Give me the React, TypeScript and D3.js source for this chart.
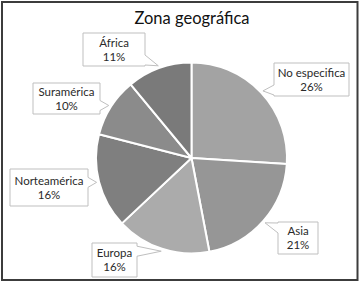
import * as d3 from 'd3';
import { useEffect, useRef } from 'react';

// zonas, in clockwise order from 12 o'clock
const zonas = ['No especifica', 'Asia', 'Europa', 'Norteamérica', 'Suramérica', 'África'];
const porcentajes = [26, 21, 16, 16, 10, 11];
const grises = ['#a3a3a3', '#969696', '#ababab', '#7f7f7f', '#8b8b8b', '#7a7a7a'];

// callout boxes (layout only): [x, y, w, h]
const cajas: [number, number, number, number][] = [
  [274, 63, 75, 33],
  [278, 222, 40, 32],
  [92, 243, 45, 34],
  [10, 169, 78, 37],
  [33, 83, 67, 31],
  [83, 33, 62, 33],
];

const FONT = 'Lato, Carlito, Calibri, sans-serif';

function calloutPath(box: [number, number, number, number], tip: [number, number]) {
  const [x, y, w, h] = box;
  const x2 = x + w;
  const y2 = y + h;
  const [tx, ty] = tip;
  const hw = 5;
  const clamp = (v: number, a: number, b: number) => Math.max(a, Math.min(b, v));
  const p = d3.path();
  if (tx > x2) {
    const c = clamp(ty, y + hw + 1, y2 - hw - 1);
    p.moveTo(x, y);
    p.lineTo(x2, y);
    p.lineTo(x2, c - hw);
    p.lineTo(tx, ty);
    p.lineTo(x2, c + hw);
    p.lineTo(x2, y2);
    p.lineTo(x, y2);
    p.closePath();
  } else if (tx < x) {
    const c = clamp(ty, y + hw + 1, y2 - hw - 1);
    p.moveTo(x, y);
    p.lineTo(x2, y);
    p.lineTo(x2, y2);
    p.lineTo(x, y2);
    p.lineTo(x, c + hw);
    p.lineTo(tx, ty);
    p.lineTo(x, c - hw);
    p.closePath();
  } else {
    p.rect(x, y, w, h);
  }
  return p.toString();
}

export default function App() {
  const ref = useRef<SVGSVGElement | null>(null);

  useEffect(() => {
    if (!ref.current) return;
    const width = 360;
    const height = 283;
    const cx = 191.5;
    const cy = 158;
    const r = 95.5;

    const svg = d3.select(ref.current).attr('viewBox', `0 0 ${width} ${height}`);
    svg.selectAll('*').remove();

    svg.append('rect')
      .attr('width', width).attr('height', height).attr('fill', '#fff');

    svg.append('rect')
      .attr('x', 2).attr('y', 2).attr('width', 355.5).attr('height', 278)
      .attr('fill', 'none').attr('stroke', '#3c3c3c').attr('stroke-width', 2);

    svg.append('text')
      .attr('x', 192).attr('y', 24)
      .attr('text-anchor', 'middle')
      .attr('font-family', FONT).attr('font-size', 16.5)
      .attr('fill', '#111')
      .text('Zona geográfica');

    const pie = d3.pie<number>().sort(null).value((d) => d);
    const arcs = pie(porcentajes);
    const arc = d3.arc<d3.PieArcDatum<number>>().innerRadius(0).outerRadius(r);
    const tipArc = d3.arc<d3.PieArcDatum<number>>().innerRadius(98).outerRadius(98);

    const g = svg.append('g').attr('transform', `translate(${cx},${cy})`);
    g.selectAll('path')
      .data(arcs)
      .enter()
      .append('path')
      .attr('d', arc)
      .attr('fill', (_d, i) => grises[i])
      .attr('stroke', '#fff')
      .attr('stroke-width', 2)
      .attr('stroke-linejoin', 'round');

    const labels = svg.append('g');
    arcs.forEach((a, i) => {
      const c = tipArc.centroid(a);
      const tip: [number, number] = [cx + c[0], cy + c[1]];
      const box = cajas[i];
      labels.append('path')
        .attr('d', calloutPath(box, tip))
        .attr('fill', '#fff')
        .attr('stroke', '#bfbfbf')
        .attr('stroke-width', 1);
      const mx = box[0] + box[2] / 2;
      const my = box[1] + box[3] / 2;
      const t = labels.append('text')
        .attr('text-anchor', 'middle')
        .attr('font-family', FONT).attr('font-size', 11.5)
        .attr('fill', '#2a2a2a');
      t.append('tspan').attr('x', mx).attr('y', my - 3).text(zonas[i]);
      t.append('tspan').attr('x', mx).attr('y', my + 11).text(`${porcentajes[i]}%`);
    });
  }, []);

  return (
    <svg
      ref={ref}
      width={360}
      height={283}
      style={{ position: 'absolute', left: 0, top: 0, display: 'block' }}
    />
  );
}
